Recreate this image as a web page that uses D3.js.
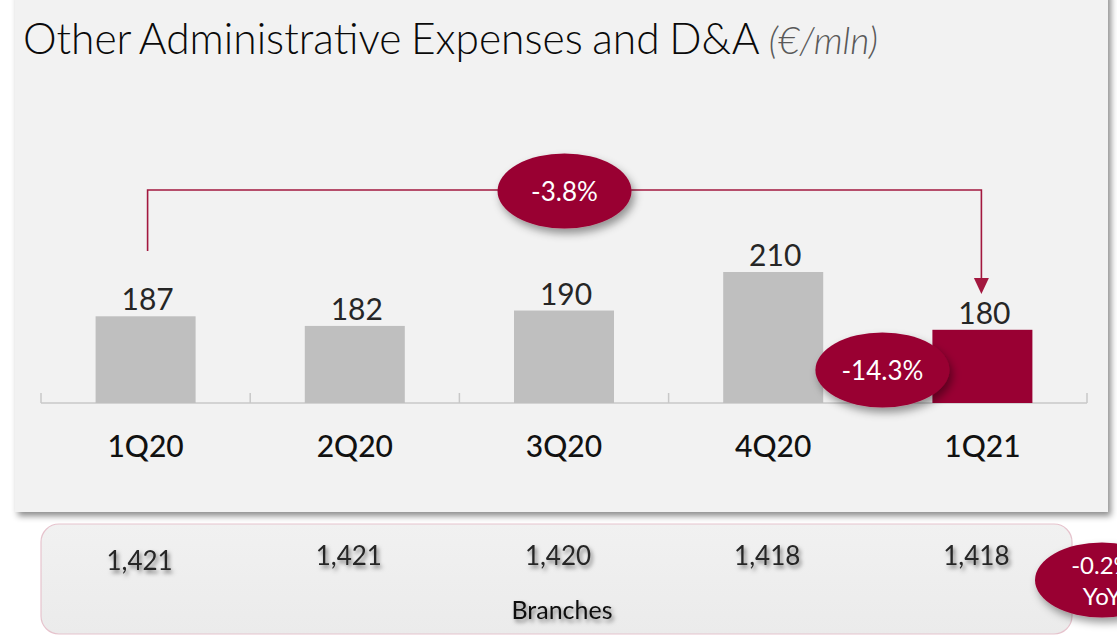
<!DOCTYPE html>
<html>
<head>
<meta charset="utf-8">
<script src="https://cdn.jsdelivr.net/npm/d3@7/dist/d3.min.js"></script>
<style>
  html, body { margin: 0; padding: 0; background: #ffffff; }
  svg { display: block; }
  text { font-family: Lato, "Open Sans", sans-serif; }
</style>
</head>
<body>
<svg id="chart" width="1117" height="639"></svg>
<script>
// ---- data ----
const categories = ["1Q20", "2Q20", "3Q20", "4Q20", "1Q21"];
const expenses = [187, 182, 190, 210, 180];
const branches = ["1,421", "1,421", "1,420", "1,418", "1,418"];
const changeTotal = "-3.8%";
const changeQoQ = "-14.3%";
const changeBranches = ["-0.2%", "YoY"];
const titleMain = "Other Administrative Expenses and D&A";
const titleUnit = "(€/mln)";
const branchesLabel = "Branches";

const CRIMSON = "#990033";
const GREY_BAR = "#bfbfbf";

const svg = d3.select("#chart");
const defs = svg.append("defs");

const panelShadow = defs.append("filter").attr("id", "panelShadow")
  .attr("x", "-5%").attr("y", "-5%").attr("width", "110%").attr("height", "115%");
panelShadow.append("feDropShadow").attr("dx", 3).attr("dy", 4).attr("stdDeviation", 3)
  .attr("flood-color", "#000").attr("flood-opacity", 0.45);

const bubbleShadow = defs.append("filter").attr("id", "bubbleShadow")
  .attr("x", "-30%").attr("y", "-30%").attr("width", "160%").attr("height", "170%");
bubbleShadow.append("feDropShadow").attr("dx", 3).attr("dy", 5).attr("stdDeviation", 4)
  .attr("flood-color", "#000").attr("flood-opacity", 0.4);

const textShadow = defs.append("filter").attr("id", "textShadow")
  .attr("x", "-20%").attr("y", "-30%").attr("width", "140%").attr("height", "170%");
textShadow.append("feDropShadow").attr("dx", 2).attr("dy", 3).attr("stdDeviation", 2)
  .attr("flood-color", "#000").attr("flood-opacity", 0.5);

const boxGrad = defs.append("linearGradient").attr("id", "boxGrad")
  .attr("x1", 0).attr("y1", 0).attr("x2", 0).attr("y2", 1);
boxGrad.append("stop").attr("offset", "0%").attr("stop-color", "#f1f1f1");
boxGrad.append("stop").attr("offset", "100%").attr("stop-color", "#ebebeb");

// ---- main panel ----
svg.append("rect")
  .attr("x", 15).attr("y", -10).attr("width", 1093).attr("height", 522)
  .attr("fill", "#f2f2f2").attr("filter", "url(#panelShadow)");

// title
const title = svg.append("text").attr("x", 23).attr("y", 54)
  .attr("font-size", 42.5).attr("font-weight", 300).attr("fill", "#0a0a0a")
  .attr("word-spacing", -2);
title.append("tspan").text(titleMain);
title.append("tspan").text(" " + titleUnit)
  .attr("font-size", 37).attr("font-style", "italic").attr("fill", "#595959")
  .attr("word-spacing", 0);

// ---- scales ----
const baseline = 403;
const x = d3.scaleBand().domain(categories).range([41, 1087])
  .paddingInner(0.522).paddingOuter(0.261);
const step = x.step();
const y = d3.scaleLinear().domain([142, 210]).range([baseline, 272]);

// ---- axis ----
const axisG = svg.append("g");
axisG.append("line")
  .attr("x1", x.range()[0]).attr("x2", x.range()[1])
  .attr("y1", baseline).attr("y2", baseline)
  .attr("stroke", "#c8c8c8").attr("stroke-width", 1.5);
const tickXs = categories.map(c => x(c) + x.bandwidth() / 2 - step / 2)
  .concat([x(categories[categories.length - 1]) + x.bandwidth() / 2 + step / 2]);
axisG.selectAll("line.tick").data(tickXs).join("line").attr("class", "tick")
  .attr("x1", d => d).attr("x2", d => d)
  .attr("y1", baseline).attr("y2", baseline - 10)
  .attr("stroke", "#c8c8c8").attr("stroke-width", 1.5);

// ---- bars ----
svg.selectAll("rect.bar").data(expenses).join("rect").attr("class", "bar")
  .attr("x", (d, i) => x(categories[i]))
  .attr("width", x.bandwidth())
  .attr("y", d => y(d))
  .attr("height", d => baseline - y(d))
  .attr("fill", (d, i) => i === categories.length - 1 ? CRIMSON : GREY_BAR);

// value labels
svg.selectAll("text.val").data(expenses).join("text").attr("class", "val")
  .attr("x", (d, i) => x(categories[i]) + x.bandwidth() / 2 + 2)
  .attr("y", d => y(d) - 6)
  .attr("text-anchor", "middle").attr("font-size", 30).attr("fill", "#262626")
  .text(d => d);

// category labels
svg.selectAll("text.cat").data(categories).join("text").attr("class", "cat")
  .attr("x", d => x(d) + x.bandwidth() / 2)
  .attr("y", 457)
  .attr("text-anchor", "middle").attr("font-size", 30).attr("font-weight", 500).attr("fill", "#111")
  .text(d => d);

// ---- bracket -3.8% ----
const xFirst = x(categories[0]) + x.bandwidth() / 2 + 2;
const xLast = x(categories[categories.length - 1]) + x.bandwidth() / 2 - 1;
const bracketY = 190;
svg.append("path")
  .attr("d", `M${xFirst},251 V${bracketY} H${xLast} V280`)
  .attr("fill", "none").attr("stroke", "#a3183f").attr("stroke-width", 1.6);
svg.append("path")
  .attr("d", `M${xLast - 7.5},278 L${xLast + 7.5},278 L${xLast},294 Z`)
  .attr("fill", "#a3183f");

function bubble(cx, cy, lines, fs) {
  const g = svg.append("g");
  g.append("ellipse").attr("cx", cx).attr("cy", cy).attr("rx", 67).attr("ry", 37.5)
    .attr("fill", CRIMSON).attr("filter", "url(#bubbleShadow)");
  const n = lines.length;
  lines.forEach((t, k) => {
    g.append("text").attr("x", cx)
      .attr("y", cy + 9.5 + (k - (n - 1) / 2) * 31)
      .attr("text-anchor", "middle").attr("font-size", fs).attr("fill", "#fff")
      .text(t);
  });
}
bubble((xFirst + xLast) / 2, 191, [changeTotal], 26);
bubble(x(categories[4]) - 50, 370, [changeQoQ], 26);

// ---- branches box ----
svg.append("rect")
  .attr("x", 41).attr("y", 524).attr("width", 1031).attr("height", 110)
  .attr("rx", 18).attr("ry", 18)
  .attr("fill", "url(#boxGrad)").attr("stroke", "#e6c3cd").attr("stroke-width", 1.2);

svg.selectAll("text.br").data(branches).join("text").attr("class", "br")
  .attr("x", (d, i) => x(categories[i]) + x.bandwidth() / 2 - 6)
  .attr("y", (d, i) => i === 0 ? 570 : 565)
  .attr("text-anchor", "middle").attr("font-size", 26).attr("fill", "#262626")
  .attr("filter", "url(#textShadow)")
  .text(d => d);

svg.append("text").attr("x", 562).attr("y", 619)
  .attr("text-anchor", "middle").attr("font-size", 25).attr("fill", "#111")
  .attr("filter", "url(#textShadow)")
  .text(branchesLabel);

bubble(1102, 580, changeBranches, 24);
</script>
</body>
</html>
